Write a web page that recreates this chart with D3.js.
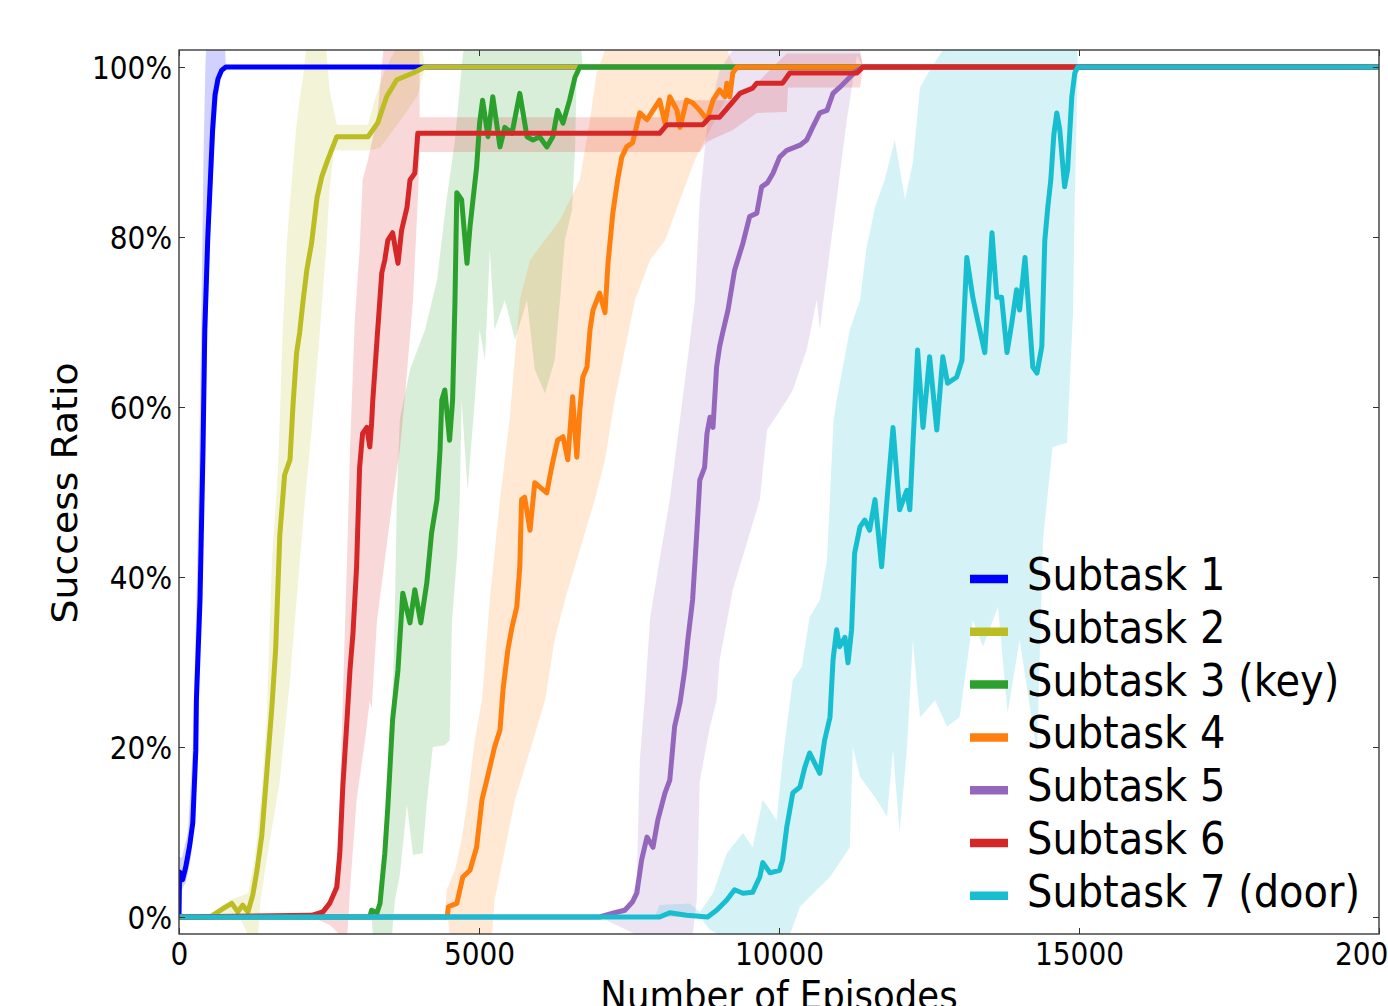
<!DOCTYPE html>
<html>
<head>
<meta charset="utf-8">
<script src="https://cdnjs.cloudflare.com/ajax/libs/d3/7.8.5/d3.min.js"></script>
<style>
  html, body { margin: 0; padding: 0; background: #fff; overflow: hidden; }
  svg { display: block; font-family: "DejaVu Sans", sans-serif; }
</style>
</head>
<body>
<svg id="chart" width="1388" height="1006"></svg>
<script>
/*
 Subtask success ratio vs. number of episodes.
 Each subtask: mean curve [episode, %] plus the upper and lower edge of its band.
 */

var subtaskNames = ['Subtask 1', 'Subtask 2', 'Subtask 3 (key)', 'Subtask 4',
                    'Subtask 5', 'Subtask 6', 'Subtask 7 (door)'];
var subtaskColors = ['#0000ff', '#bcbd22', '#2ca02c', '#ff7f0e', '#9467bd', '#d62728', '#17becf'];

var xTicks = [0, 5000, 10000, 15000, 20000];
var yTicks = [0, 20, 40, 60, 80, 100];

var subtask1Mean = [[0,0],[10,5.3],[60,4.4],[110,5.8],[180,8.5],[230,11.1],[280,19.6],[290,25.5],[350,37.3],
    [400,54.9],[430,69.1],[480,80.0],[530,87.9],[560,92.6],[600,96.7],[650,98.6],[710,99.6],[780,100],[20000,100]];
var subtask1Hi = [[0,0],[0,7],[50,7],[150,10],[230,20],[300,40],[350,60],[380,75],[410,90],[440,100],[460,104],
    [760,104],[780,100]];
var subtask1Lo = [[0,0],[30,3],[110,4],[200,7],[260,12],[320,25],[380,40],[430,55],[480,72],[530,82],[580,90],
    [640,96],[700,99],[780,100]];

var subtask2Mean = [[0,0],[540,0],[560,0.2],[760,1.1],[880,1.6],[980,0.6],[1060,1.4],[1150,0.6],[1230,2.6],[1300,5.5],
    [1380,9.6],[1460,16.7],[1550,24.9],[1610,31.4],[1680,44.9],[1760,52.0],[1850,53.8],[1900,60.2],[1960,66.4],
    [2010,68.7],[2060,72.0],[2130,76.1],[2210,79.3],[2300,84.6],[2380,87.1],[2480,89.1],[2630,91.8],[3150,91.8],
    [3310,93.4],[3460,96.5],[3630,98.5],[3900,99.3],[4100,100],[20000,100]];
var subtask2Hi = [[510,0.2],[850,2.0],[1150,2.8],[1260,6.7],[1380,14.9],[1460,23.2],[1550,42.0],[1650,52.6],
    [1730,69.1],[1800,79.6],[1880,86.7],[1950,92.6],[2010,96.1],[2080,99.6],[2150,104],[2430,104],[2510,97.3],
    [2630,93.2],[3150,93.2],[3260,96.1],[3430,99.6],[3600,102],[3850,104],[4010,104],[4100,100]];
var subtask2Lo = [[560,0],[1010,-0.1],[1150,-2.1],[1310,-2.7],[1360,2.0],[1460,6.7],[1600,12.6],[1680,16.1],
    [1850,27.9],[1960,37.3],[2100,49.1],[2210,57.3],[2350,69.1],[2450,78.5],[2510,85.5],[2580,90.2],[3180,90.2],
    [3350,90.5],[3510,92.0],[3760,94.4],[3980,96.7],[4100,100]];

var subtask3Mean = [[0,0],[3180,0],[3210,0.8],[3300,0.5],[3350,1.6],[3430,7.5],[3480,12.9],[3560,23.2],[3650,29.1],
    [3680,32.6],[3730,38.1],[3850,34.6],[3930,38.5],[4030,34.6],[4130,39.3],[4210,45.2],[4300,49.1],[4350,54.9],
    [4380,60.8],[4430,62.0],[4510,56.1],[4560,60.8],[4600,72.6],[4630,85.2],[4710,84.4],[4800,76.9],[4850,81.2],
    [4960,88.2],[5010,93.4],[5060,96.1],[5150,91.8],[5230,96.5],[5350,90.6],[5430,92.9],[5550,92.2],[5680,96.9],
    [5800,91.8],[5900,91.4],[6010,91.8],[6130,90.6],[6230,91.8],[6310,94.9],[6400,93.4],[6510,96.1],[6600,98.8],
    [6680,100],[20000,100]];
var subtask3Hi = [[3180,0],[3310,1.4],[3430,4.4],[3510,13.8],[3560,25.5],[3600,37.3],[3630,49.1],[3680,58.5],
    [3850,64.4],[4100,69.1],[4300,74.9],[4460,84.4],[4600,91.4],[4730,101.4],[4800,104],[6680,104],[6730,100]];
var subtask3Lo = [[3210,0],[3230,-2.1],[3550,-2.1],[3600,2.0],[3680,4.9],[3800,13.2],[3900,7.3],[4060,7.5],
    [4130,13.4],[4230,20.0],[4430,20.2],[4510,20.8],[4550,34.9],[4630,42.0],[4680,49.1],[4710,60.8],[4810,50.2],
    [4930,60.8],[5010,69.1],[5100,65.5],[5180,78.5],[5260,69.1],[5430,72.6],[5600,67.9],[5800,72.6],[5930,64.4],
    [6100,61.6],[6260,65.5],[6350,72.6],[6430,79.6],[6550,83.2],[6600,90.2],[6630,100],[6730,100]];

var subtask4Mean = [[0,0],[4470,0],[4490,1.2],[4630,1.6],[4730,4.7],[4850,5.5],[4960,8.2],[5050,13.8],
    [5130,16.1],[5210,18.5],[5260,20.0],[5350,22.0],[5400,26.7],[5480,31.4],[5550,34.1],[5630,36.5],[5680,41.2],
    [5710,49.1],[5760,49.4],[5850,45.5],[5930,51.1],[6010,50.6],[6130,49.9],[6210,52.9],[6310,56.1],[6400,56.5],
    [6480,53.8],[6560,61.2],[6630,54.1],[6680,59.6],[6730,63.5],[6800,64.7],[6850,69.1],[6900,71.4],[7010,73.4],
    [7100,71.1],[7150,76.9],[7230,82.8],[7310,86.7],[7380,89.4],[7460,90.6],[7560,91.1],[7680,94.6],[7800,93.8],
    [7900,94.9],[8010,96.1],[8100,93.4],[8180,96.5],[8300,94.9],[8350,92.9],[8460,96.1],[8560,95.8],[8680,94.9],
    [8800,93.8],[8900,96.1],[9010,97.3],[9100,96.5],[9130,98.1],[9180,96.5],[9230,99.3],[9300,100],[20000,100]];
var subtask4Hi = [[4430,0],[4460,3.2],[4600,5.5],[4710,9.1],[4810,13.8],[4930,20.8],[5050,25.5],[5180,37.3],
    [5350,49.1],[5510,58.5],[5680,72.6],[5850,77.3],[6350,82.0],[6680,86.7],[6850,93.8],[6960,99.3],[7100,102],
    [7180,104],[9010,104],[9230,100.5],[9300,100]];
var subtask4Lo = [[4480,0],[4510,-2.1],[4850,-2.7],[5210,-2.7],[5260,2.0],[5430,7.9],[5600,13.8],[5850,19.6],
    [6100,25.5],[6260,32.6],[6430,37.3],[6680,43.2],[6930,49.1],[7100,53.8],[7260,60.8],[7430,66.7],[7600,72.6],
    [7850,77.3],[8100,79.6],[8350,84.4],[8600,89.1],[8850,92.6],[9100,96.1],[9300,100]];

var subtask5Mean = [[0,0],[7010,0],[7260,0.5],[7430,0.8],[7560,1.8],[7630,2.8],[7710,6.7],[7800,9.4],[7900,8.2],
    [7980,11.4],[8100,14.6],[8180,16.1],[8260,22.4],[8350,25.2],[8430,29.1],[8480,32.6],[8560,37.3],[8630,45.2],
    [8680,51.4],[8760,52.9],[8800,56.9],[8850,58.8],[8900,57.6],[8960,64.7],[9010,67.1],[9060,68.7],[9150,71.4],
    [9260,76.1],[9400,79.3],[9510,82.4],[9630,82.8],[9710,85.9],[9810,86.4],[9900,87.5],[10010,89.4],[10130,90.2],
    [10350,90.8],[10460,91.4],[10560,92.9],[10680,94.6],[10800,94.9],[10900,96.9],[11010,97.6],[11180,98.8],
    [11300,99.6],[11400,100],[20000,100]];
var subtask5Hi = [[7010,0],[7510,1.4],[7630,4.4],[7680,18.5],[7760,25.5],[7850,34.9],[7900,37.3],[8010,42.0],
    [8180,49.1],[8390,60.8],[8600,72.6],[8680,84.4],[8810,93.8],[9010,99.6],[9230,102],[9350,104],[11300,104],
    [11400,100]];
var subtask5Lo = [[7630,-2.1],[8560,-2.1],[8630,2.0],[8680,16.1],[8850,22.4],[8960,25.5],[9010,30.2],[9230,38.5],
    [9680,49.1],[9800,57.3],[10130,60.8],[10230,62.0],[10460,66.7],[10630,72.6],[10680,69.1],[10850,78.5],
    [10960,84.4],[11130,93.8],[11300,101.4],[11400,100]];

var subtask6Mean = [[0,0],[2210,0.2],[2400,0.6],[2510,1.6],[2630,3.5],[2680,7.5],[2730,15.3],[2800,23.2],
    [2850,29.1],[2900,33.4],[2960,41.2],[3010,52.9],[3060,56.9],[3130,57.6],[3180,55.3],[3210,58.1],[3230,60.8],
    [3300,67.9],[3380,75.8],[3430,77.3],[3480,79.6],[3560,80.5],[3650,76.9],[3710,80.8],[3800,83.5],[3850,86.7],
    [3930,87.5],[3980,92.2],[8010,92.2],[8130,93.2],[8730,93.2],[8850,94.1],[9010,94.1],[9180,95.5],[9350,96.9],
    [9560,97.5],[9630,98.1],[10060,98.1],[10180,99.3],[11300,99.3],[11400,100],[20000,100]];
var subtask6Hi = [[2180,0.2],[2510,1.4],[2630,5.5],[2680,13.8],[2730,25.5],[2800,42.0],[2850,54.9],[2930,70.2],
    [3010,78.5],[3060,86.7],[3150,89.1],[3300,93.8],[3400,101.6],[3450,104],[4010,104],[4010,94.1],[8100,94.1],
    [8130,96.1],[9230,96.1],[9350,97.3],[9630,98.1],[10010,100.8],[10130,101.6],[11350,101.6],[11400,100]];
var subtask6Lo = [[2210,0],[2510,-0.9],[2680,-2.1],[2800,-2.7],[2850,3.2],[2960,13.8],[3100,20.8],[3180,25.5],
    [3210,24.4],[3300,34.9],[3430,42.0],[3560,49.1],[3680,54.9],[3760,60.8],[3900,72.6],[3980,84.4],[4010,90.0],
    [8680,90.0],[8800,91.2],[9230,92.6],[9630,94.6],[10130,94.7],[10150,97.6],[11350,97.6],[11400,100]];

var subtask7Mean = [[0,0],[8010,0],[8180,0.5],[8460,0.2],[8810,0],[8960,0.8],[9130,2.0],[9260,3.2],[9400,2.8],
    [9560,2.9],[9680,4.7],[9730,6.4],[9850,5.2],[10010,5.5],[10060,6.7],[10130,10.6],[10230,14.6],[10350,15.3],
    [10430,17.6],[10510,19.3],[10630,17.6],[10680,16.9],[10760,20.8],[10850,23.5],[10900,30.2],[10960,33.8],
    [11010,31.8],[11100,32.9],[11150,29.9],[11210,33.8],[11260,42.8],[11350,45.9],[11430,46.7],[11510,45.5],
    [11600,49.1],[11710,41.2],[11800,49.1],[11900,57.6],[12010,47.9],[12130,50.2],[12180,47.9],[12230,55.3],
    [12310,66.7],[12400,57.6],[12510,65.9],[12630,57.3],[12730,65.9],[12810,62.8],[12960,63.5],[13050,65.5],
    [13130,77.6],[13230,72.9],[13310,70.2],[13430,66.4],[13550,80.5],[13630,72.9],[13710,72.9],[13800,66.4],
    [13880,69.9],[13960,73.8],[14010,71.4],[14100,77.6],[14230,64.7],[14300,64.0],[14380,67.1],[14430,79.6],
    [14480,83.5],[14530,86.7],[14580,92.0],[14630,94.6],[14680,92.6],[14760,85.9],[14810,87.9],[14880,96.5],
    [14930,99.3],[14980,100],[20000,100]];
var subtask7Hi = [[7930,0],[8010,1.4],[8510,1.6],[8680,0.6],[8900,2.8],[9130,7.5],[9400,9.9],[9560,8.2],
    [9730,13.8],[9960,11.4],[10060,18.5],[10230,27.9],[10380,29.4],[10510,35.3],[10680,37.3],[10800,42.0],
    [10910,58.5],[10960,60.8],[11180,69.1],[11350,72.6],[11460,78.8],[11600,83.5],[11760,86.7],[11930,91.4],
    [12100,84.4],[12230,88.7],[12350,97.6],[12510,99.6],[12730,102],[12760,104],[14960,104],[14980,100]];
var subtask7Lo = [[8680,0],[8850,-1.5],[9010,-2.1],[10180,-2.1],[10350,1.2],[10850,4.7],[11180,8.2],[11230,20.0],
    [11350,16.5],[11630,13.8],[11800,11.8],[11900,19.6],[12010,9.9],[12130,19.6],[12230,32.5],[12350,23.5],
    [12600,25.5],[12800,22.4],[13010,23.5],[13230,34.9],[13400,31.8],[13650,36.5],[13810,24.0],[14010,32.6],
    [14300,19.3],[14400,44.4],[14560,55.3],[14800,55.8],[14900,71.1],[14930,84.4],[14980,100]];

(function () {
    'use strict';

    var means = [subtask1Mean, subtask2Mean, subtask3Mean, subtask4Mean, subtask5Mean, subtask6Mean, subtask7Mean],
        his = [subtask1Hi, subtask2Hi, subtask3Hi, subtask4Hi, subtask5Hi, subtask6Hi, subtask7Hi],
        los = [subtask1Lo, subtask2Lo, subtask3Lo, subtask4Lo, subtask5Lo, subtask6Lo, subtask7Lo];

    var series = subtaskNames.map(function (name, i) {
        return { name: name, color: subtaskColors[i], mean: means[i], hi: his[i], lo: los[i] };
    });

    var plot = { left: 179, top: 50, right: 1379, bottom: 934 },
        stretch = 1.12;   // glyphs in the source are a bit taller than wide

    var svg = d3.select('#chart');

    var x = d3.scaleLinear().domain([0, 20000]).range([plot.left, plot.right]),
        y = d3.scaleLinear().domain([-2, 102]).range([plot.bottom, plot.top]);

    svg.append('defs').append('clipPath')
        .attr('id', 'plot-clip')
        .append('rect')
        .attr('x', plot.left)
        .attr('y', plot.top)
        .attr('width', plot.right - plot.left)
        .attr('height', plot.bottom - plot.top);

    var line = d3.line()
        .x(function (d) { return x(d[0]); })
        .y(function (d) { return y(d[1]); });

    var body = svg.append('g').attr('clip-path', 'url(#plot-clip)');

    // bands first, then the mean curves on top
    series.forEach(function (s) {
        var ring = s.hi.concat(s.lo.slice().reverse());
        body.append('path')
            .attr('d', line(ring) + 'Z')
            .style('fill', s.color)
            .style('fill-opacity', 0.18)
            .style('stroke', 'none');
    });

    series.forEach(function (s) {
        body.append('path')
            .attr('d', line(s.mean))
            .style('fill', 'none')
            .style('stroke', s.color)
            .style('stroke-width', 5)
            .style('stroke-linejoin', 'round');
    });

    // axes: inward ticks on all four sides
    var yLeft = svg.append('g')
        .attr('transform', 'translate(' + plot.left + ',0)')
        .call(d3.axisLeft(y).tickValues(yTicks).tickSize(-6)
            .tickFormat(function (d) { return d + '%'; }));

    yLeft.selectAll('text')
        .attr('x', null).attr('dy', null)
        .attr('transform', 'translate(-7,11.4) scale(1,' + stretch + ')')
        .style('font-size', '28px')
        .style('font-family', '"DejaVu Sans", sans-serif')
        .style('fill', '#000');

    svg.append('g')
        .attr('transform', 'translate(' + plot.right + ',0)')
        .call(d3.axisRight(y).tickValues(yTicks).tickSize(-6).tickFormat(''));

    var xBottom = svg.append('g')
        .attr('transform', 'translate(0,' + plot.bottom + ')')
        .call(d3.axisBottom(x).tickValues(xTicks).tickSize(-6).tickFormat(d3.format('d')));

    xBottom.selectAll('text')
        .attr('y', null).attr('dy', null)
        .attr('transform', 'translate(0,31) scale(1,' + stretch + ')')
        .style('font-size', '28px')
        .style('font-family', '"DejaVu Sans", sans-serif')
        .style('fill', '#000');

    svg.append('g')
        .attr('transform', 'translate(0,' + plot.top + ')')
        .call(d3.axisTop(x).tickValues(xTicks).tickSize(-6).tickFormat(''));

    svg.selectAll('.domain').remove();
    svg.selectAll('.tick line').style('stroke', '#333').style('stroke-width', 1);

    svg.append('rect')
        .attr('x', plot.left)
        .attr('y', plot.top)
        .attr('width', plot.right - plot.left)
        .attr('height', plot.bottom - plot.top)
        .style('fill', 'none')
        .style('stroke', '#3a3a3a')
        .style('stroke-width', 1.4);

    // axis titles
    svg.append('text')
        .attr('transform', 'translate(779,1009) scale(1,' + stretch + ')')
        .attr('text-anchor', 'middle')
        .style('font-size', '35.5px')
        .text('Number of Episodes');

    svg.append('text')
        .attr('transform', 'translate(77,493) rotate(-90) scale(1.08,1)')
        .attr('text-anchor', 'middle')
        .style('font-size', '35px')
        .text('Success Ratio');

    // legend, no frame
    var legend = svg.append('g');
    series.forEach(function (s, i) {
        var base = 590 + i * 52.8;
        legend.append('line')
            .attr('x1', 970).attr('x2', 1008)
            .attr('y1', base - 11).attr('y2', base - 11)
            .style('stroke', s.color)
            .style('stroke-width', 8.5);
        legend.append('text')
            .attr('transform', 'translate(1027,' + base + ') scale(1,' + stretch + ')')
            .style('font-size', '40px')
            .text(s.name);
    });
})();
</script>
</body>
</html>
